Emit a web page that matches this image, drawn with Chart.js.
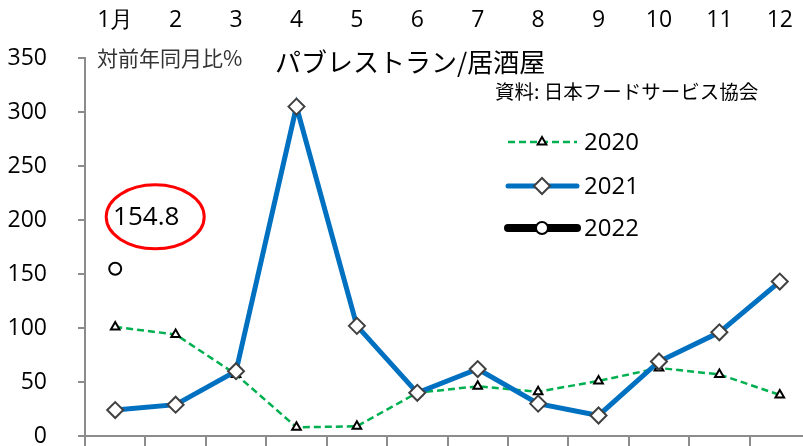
<!DOCTYPE html>
<html>
<head>
<meta charset="utf-8">
<script src="https://cdn.jsdelivr.net/npm/chart.js@4.4.0/dist/chart.umd.min.js"></script>
<style>
  html, body { margin: 0; padding: 0; background: #fff; overflow: hidden; }
  #chart { width: 810px; height: 446px; display: block; }
</style>
</head>
<body>
<canvas id="chart" width="810" height="446"></canvas>
<script>
// data
const months = ["1月", "2", "3", "4", "5", "6", "7", "8", "9", "10", "11", "12"];
const yTicks = [0, 50, 100, 150, 200, 250, 300, 350];
const y2020 = [101, 94, 57, 8, 9, 40, 46, 41, 51, 63, 57, 38];
const y2021 = [24, 29, 60, 305, 102, 40, 62, 30, 19, 69, 96, 143];
const y2022 = [154.8, null, null, null, null, null, null, null, null, null, null, null];
const calloutValue = "154.8";

const AXIS = "#8c8c8c";
const NUM_FONT = "'Open Sans', 'Liberation Sans', sans-serif";
const JP_FONT = "'Noto Sans CJK JP', sans-serif";

// Plugin: titles, callout ellipse, legend
const decorPlugin = {
    id: "decor",
    afterDraw(chart) {
        const ctx = chart.ctx;
        const x = chart.scales.x;
        const y = chart.scales.y;
        ctx.save();

        // texts
        ctx.fillStyle = "#333";
        ctx.textBaseline = "middle";
        ctx.font = "21px " + JP_FONT;
        ctx.fillText("対前年同月比%", 97, 58);
        ctx.fillStyle = "#000";
        ctx.font = "26px " + JP_FONT;
        ctx.fillText("パブレストラン/居酒屋", 275, 62);
        ctx.font = "19.5px " + JP_FONT;
        ctx.fillText("資料: 日本フードサービス協会", 495, 92);

        // callout for 2022 value
        const cx = x.getPixelForValue(0) + 40;
        const cy = y.getPixelForValue(y2022[0]) - 52;
        ctx.strokeStyle = "#ff0000";
        ctx.lineWidth = 3;
        ctx.beginPath();
        ctx.ellipse(cx, cy, 49, 32, 0, 0, Math.PI * 2);
        ctx.stroke();
        ctx.fillStyle = "#000";
        ctx.font = "26px " + NUM_FONT;
        ctx.textAlign = "center";
        ctx.fillText(calloutValue, cx - 9, cy + 1);

        // legend
        const rows = [
            { label: "2020", y: 142, ds: chart.data.datasets[0] },
            { label: "2021", y: 186, ds: chart.data.datasets[1] },
            { label: "2022", y: 228, ds: chart.data.datasets[2] },
        ];
        rows.forEach((r) => {
            ctx.save();
            ctx.strokeStyle = r.ds.borderColor;
            ctx.lineWidth = r.ds.borderWidth;
            ctx.lineCap = r.ds.borderDash ? "butt" : "round";
            ctx.setLineDash(r.ds.borderDash || []);
            ctx.beginPath();
            ctx.moveTo(508, r.y);
            ctx.lineTo(577, r.y);
            ctx.stroke();
            ctx.restore();
            ctx.save();
            ctx.fillStyle = r.ds.pointBackgroundColor;
            ctx.strokeStyle = r.ds.pointBorderColor;
            ctx.lineWidth = r.ds.pointBorderWidth;
            Chart.helpers.drawPoint(ctx, {
                pointStyle: r.ds.pointStyle,
                radius: r.ds.pointRadius,
                rotation: 0,
                borderWidth: r.ds.pointBorderWidth,
            }, 542, r.y);
            ctx.restore();
            ctx.fillStyle = "#000";
            ctx.font = "24px " + NUM_FONT;
            ctx.textAlign = "left";
            ctx.fillText(r.label, 584, r.y + 1);
        });
        ctx.restore();
    },
};

new Chart(document.getElementById("chart"), {
    type: "line",
    data: {
        labels: months,
        datasets: [
            {
                label: "2020",
                data: y2020,
                borderColor: "#00b050",
                borderWidth: 2.5,
                borderDash: [7, 4],
                pointStyle: "triangle",
                pointRadius: 5,
                pointBackgroundColor: "#fff",
                pointBorderColor: "#000",
                pointBorderWidth: 2,
                order: 3,
            },
            {
                label: "2021",
                data: y2021,
                borderColor: "#0070c0",
                borderWidth: 5,
                pointStyle: "rectRot",
                pointRadius: 8,
                pointBackgroundColor: "#fff",
                pointBorderColor: "#404040",
                pointBorderWidth: 2,
                order: 2,
            },
            {
                label: "2022",
                data: y2022,
                borderColor: "#000",
                borderWidth: 8,
                pointStyle: "circle",
                pointRadius: 6,
                pointBackgroundColor: "#fff",
                pointBorderColor: "#000",
                pointBorderWidth: 2,
                order: 1,
            },
        ],
    },
    options: {
        responsive: false,
        maintainAspectRatio: false,
        animation: false,
        devicePixelRatio: 1,
        layout: { padding: 0, autoPadding: false },
        plugins: {
            legend: { display: false },
            tooltip: { enabled: false },
        },
        scales: {
            x: {
                type: "category",
                position: "bottom",
                offset: true,
                ticks: { display: false },
                grid: {
                    offset: true,
                    drawOnChartArea: false,
                    tickLength: 10,
                    color: AXIS,
                    lineWidth: 2,
                },
                border: { color: AXIS, width: 2 },
                afterFit: (s) => { s.height = 10; },
            },
            xTop: {
                type: "category",
                position: "top",
                offset: true,
                labels: months,
                grid: { display: false, drawTicks: false },
                border: { display: false },
                ticks: {
                    color: "#000",
                    font: { size: 23, family: NUM_FONT },
                    padding: 24,
                    maxRotation: 0,
                    autoSkip: false,
                },
                afterFit: (s) => {
                    s.height = 58;
                    s.paddingLeft = 0;
                    s.paddingRight = 0;
                },
            },
            y: {
                min: 0,
                max: 350,
                afterBuildTicks: (s) => { s.ticks = yTicks.map((v) => ({ value: v })); },
                ticks: {
                    color: "#000",
                    font: { size: 23, family: NUM_FONT },
                    padding: 31,
                },
                grid: {
                    drawOnChartArea: false,
                    tickLength: 7,
                    color: AXIS,
                    lineWidth: 2,
                },
                border: { color: AXIS, width: 2 },
                afterFit: (s) => {
                    s.width = 85;
                    s.paddingTop = 0;
                    s.paddingBottom = 0;
                },
            },
        },
    },
    plugins: [decorPlugin],
});
</script>
</body>
</html>
